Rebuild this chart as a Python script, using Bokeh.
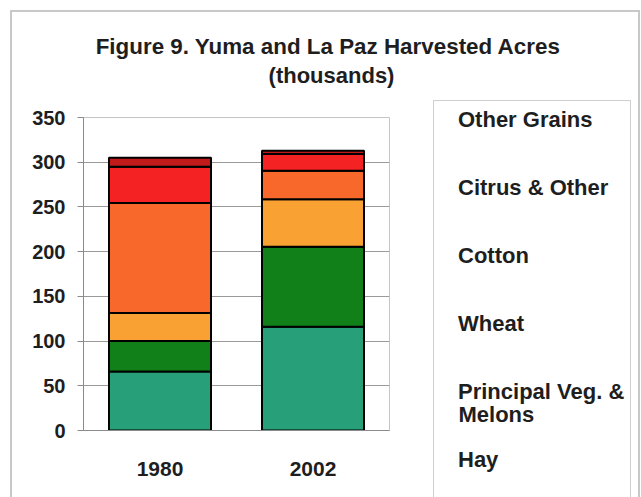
from bokeh.plotting import figure
from bokeh.models import (FactorRange, Range1d, FixedTicker, Legend, LegendItem,
                          Label, InlineStyleSheet, CDSView, IndexFilter)
from bokeh.layouts import column, row
from bokeh.embed import file_html
from bokeh.resources import INLINE

years = ["1980", "2002"]
hay = [66, 116]
veg = [34, 89.5]
wheat = [31.5, 53]
cotton = [123, 32]
citrus = [40.5, 18.6]
other_grains = [10, 3.7]
labels = ["Hay", "Principal Veg. &", "Wheat", "Cotton", "Citrus & Other", "Other Grains"]
colors = ["#27A07A", "#118019", "#F9A233", "#F8682A", "#F42222", "#C01A1A"]
y_ticks = [0, 50, 100, 150, 200, 250, 300, 350]
title_lines = ["Figure 9.  Yuma and La Paz Harvested Acres", "(thousands)"]

keys = ["hay", "veg", "wheat", "cotton", "citrus", "grains"]
data = dict(year=years, hay=hay, veg=veg, wheat=wheat, cotton=cotton,
            citrus=citrus, grains=other_grains)

FONT = "Liberation Sans"
TXT = "#1e1e1e"


def blank(w, h, **kw):
    f = figure(width=w, height=h, output_backend="svg", toolbar_location=None,
               min_border=0, min_border_left=0, min_border_right=0,
               min_border_top=0, min_border_bottom=0, **kw)
    f.axis.visible = False
    f.grid.visible = False
    f.outline_line_color = None
    f.background_fill_color = "white"
    f.border_fill_color = "white"
    return f


# ---- title strip
t = blank(641, 100, x_range=Range1d(0, 1), y_range=Range1d(0, 1))
t.add_layout(Label(x=331, y=54, x_units="screen", y_units="screen", text=title_lines[0],
                   text_font=FONT, text_font_style="bold", text_font_size="22.4px",
                   text_color=TXT, text_align="center", text_baseline="middle"))
t.add_layout(Label(x=331, y=25, x_units="screen", y_units="screen", text=title_lines[1],
                   text_font=FONT, text_font_style="bold", text_font_size="22px",
                   text_color=TXT, text_align="center", text_baseline="middle"))

# ---- main chart
p = figure(width=420, height=397, x_range=FactorRange(factors=years, range_padding=0),
           y_range=Range1d(0, 350), output_backend="svg", toolbar_location=None,
           min_border_left=83, min_border_right=31, min_border_top=17, min_border_bottom=67)
p.background_fill_color = "white"
p.border_fill_color = "white"
p.outline_line_color = "#c4c4c4"
p.outline_line_width = 1

p.vbar_stack(keys, x="year", width=0.667, source=data, color=colors,
             line_color="black", line_width=2)

p.xgrid.grid_line_color = None
p.ygrid.grid_line_color = "#9a9a9a"
p.ygrid.grid_line_width = 1
p.yaxis.ticker = FixedTicker(ticks=y_ticks)
for ax in (p.xaxis[0], p.yaxis[0]):
    ax.axis_line_color = "#8a8a8a"
    ax.axis_line_width = 1
    ax.major_label_text_font = FONT
    ax.major_label_text_font_style = "bold"
    ax.major_label_text_color = TXT
    ax.minor_tick_line_color = None
p.yaxis.major_label_text_font_size = "20px"
p.xaxis.major_label_text_font_size = "21px"
p.yaxis.major_tick_line_color = "#8a8a8a"
p.yaxis.major_tick_out = 6
p.yaxis.major_tick_in = 0
p.yaxis.major_label_standoff = 12
p.xaxis.major_tick_line_color = None
p.xaxis.major_label_standoff = 25

# ---- legend panel: same stacked series, with an empty view so only the key is drawn
lg = blank(221, 397, x_range=FactorRange(factors=years), y_range=Range1d(400, 800))
swatches = lg.vbar_stack(keys, x="year", width=0.667, source=data, color=colors,
                         line_color="black", line_width=2,
                         view=CDSView(filter=IndexFilter(indices=[])))
items = [LegendItem(label=labels[i], renderers=[swatches[i]]) for i in range(len(keys))][::-1]
legend = Legend(items=items, location=(19, 24), margin=0, padding=0,
                spacing=42, label_height=14, glyph_height=14, glyph_width=14,
                label_standoff=5, border_line_color=None, background_fill_alpha=0,
                label_text_font=FONT, label_text_font_style="bold",
                label_text_font_size="22px", label_text_color=TXT)
lg.add_layout(legend)
lg.add_layout(Label(x=38, y=83, x_units="screen", y_units="screen", text="Melons",
                    text_font=FONT, text_font_style="bold", text_font_size="22px",
                    text_color=TXT, text_align="left", text_baseline="middle"))

css = InlineStyleSheet(css="""
:host { position: relative; }
:host::before { content: ""; position: absolute; left: 10px; top: 10px; width: 630px; height: 490px;
  border: 2px solid #c8c8c8; box-sizing: border-box; pointer-events: none; z-index: 5; }
:host::after { content: ""; position: absolute; left: 433px; top: 100px; width: 198px; height: 410px;
  border: 1px solid #cfcfcf; box-sizing: border-box; pointer-events: none; z-index: 5; }
""")

layout = column(t, row(p, column(lg), spacing=0), spacing=0)
layout.stylesheets = [css]

open("out.html", "w").write(file_html(layout, INLINE))
